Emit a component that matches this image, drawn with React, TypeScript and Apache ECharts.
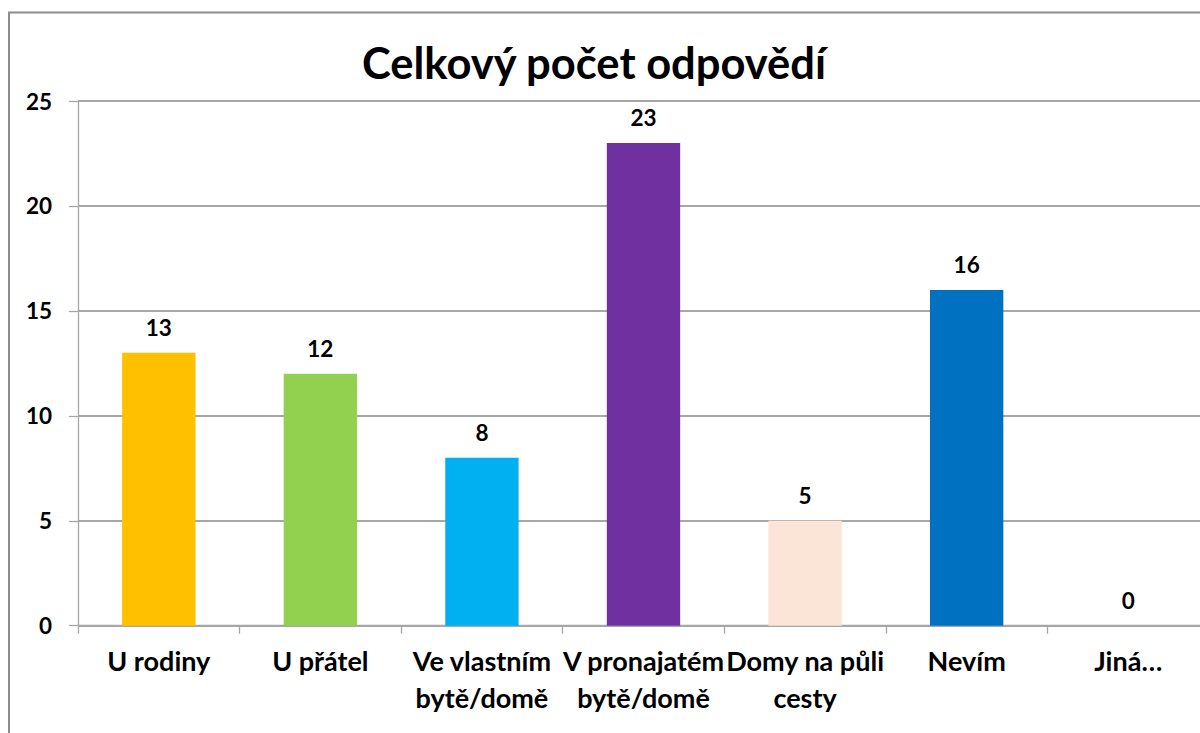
import React, { useEffect, useRef } from "react";
import * as echarts from "echarts";

const titleText = "Celkový počet odpovědí";
const categories = [
  "U rodiny",
  "U přátel",
  "Ve vlastním\nbytě/domě",
  "V pronajatém\nbytě/domě",
  "Domy na půli\ncesty",
  "Nevím",
  "Jiná…",
];
const values = [13, 12, 8, 23, 5, 16, 0];
const barColors = ["#FFC000", "#92D050", "#00B0F0", "#7030A0", "#FBE5D6", "#0070C0", "#A5A5A5"];
const yMin = 0;
const yMax = 25;
const yInterval = 5;

const FONT = "Lato, 'Noto Sans', sans-serif";

export default function App() {
  const ref = useRef<HTMLDivElement>(null);
  useEffect(() => {
    if (!ref.current) return;
    const chart = echarts.init(ref.current, null, { renderer: "svg" });
    chart.setOption({
      animation: false,
      backgroundColor: "#ffffff",
      graphic: [
        {
          type: "rect",
          z: 0,
          shape: { x: 9, y: 12.5, width: 1260, height: 800 },
          style: { fill: "none", stroke: "#8c8c8c", lineWidth: 2 },
          silent: true,
        },
        {
          type: "text",
          x: 594,
          y: 62,
          style: {
            text: titleText,
            fill: "#000000",
            font: `bold 43.5px ${FONT}`,
            textAlign: "center",
            textVerticalAlign: "middle",
          },
        },
      ],
      grid: { left: 78, right: 31, top: 101, bottom: 134.3, containLabel: false },
      xAxis: {
        type: "category",
        data: categories,
        axisLine: { show: true, lineStyle: { color: "#a6a6a6", width: 1.3 } },
        axisTick: { show: true, length: 8, alignWithLabel: false, lineStyle: { color: "#a6a6a6", width: 1.3 } },
        axisLabel: {
          interval: 0,
          margin: 17,
          color: "#000000",
          fontFamily: FONT,
          fontWeight: "bold",
          fontSize: 27,
          lineHeight: 36.5,
        },
      },
      yAxis: {
        type: "value",
        min: yMin,
        max: yMax,
        interval: yInterval,
        axisLine: { show: true, lineStyle: { color: "#a6a6a6", width: 1.3 } },
        axisTick: { show: true, length: 9, lineStyle: { color: "#a6a6a6", width: 1.3 } },
        splitLine: { show: true, lineStyle: { color: "#8a8a8a", width: 1.6 } },
        axisLabel: {
          margin: 26,
          color: "#000000",
          fontFamily: FONT,
          fontWeight: "bold",
          fontSize: 22.5,
        },
      },
      series: [
        {
          type: "bar",
          barCategoryGap: "54.6%",
          data: values.map((v, i) => ({ value: v, itemStyle: { color: barColors[i] } })),
          label: {
            show: true,
            position: "top",
            distance: 14,
            color: "#000000",
            fontFamily: FONT,
            fontWeight: "bold",
            fontSize: 22.5,
          },
        },
      ],
    });
    return () => chart.dispose();
  }, []);
  return (
    <div style={{ position: "fixed", left: 0, top: 0, width: 1200, height: 733, overflow: "hidden", background: "#fff" }}>
      <div ref={ref} style={{ width: 1240, height: 760 }} />
    </div>
  );
}
